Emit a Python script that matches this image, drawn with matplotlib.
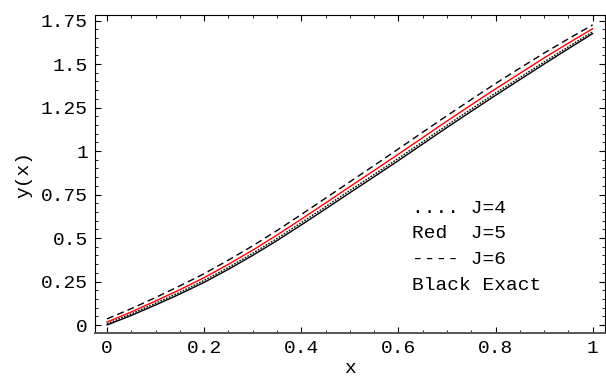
import matplotlib
matplotlib.use("Agg")
import matplotlib.pyplot as plt
from matplotlib.ticker import MultipleLocator, FixedLocator

x = [0.0, 0.05, 0.1, 0.15, 0.2, 0.25, 0.3, 0.35, 0.4, 0.45, 0.5,
     0.55, 0.6, 0.65, 0.7, 0.75, 0.8, 0.85, 0.9, 0.95, 1.0]
exact = [0.0, 0.055, 0.115, 0.178, 0.245, 0.32, 0.40, 0.485, 0.575, 0.667, 0.76,
         0.852, 0.945, 1.04, 1.135, 1.228, 1.32, 1.41, 1.50, 1.588, 1.675]
j4 = [0.007, 0.064, 0.125, 0.188, 0.256, 0.331, 0.412, 0.497, 0.588, 0.680, 0.773,
      0.865, 0.958, 1.053, 1.148, 1.241, 1.333, 1.422, 1.512, 1.599, 1.685]
j5 = [0.017, 0.075, 0.138, 0.203, 0.272, 0.349, 0.430, 0.517, 0.608, 0.701, 0.795,
      0.888, 0.982, 1.077, 1.172, 1.265, 1.357, 1.446, 1.535, 1.620, 1.703]
j6 = [0.035, 0.094, 0.158, 0.225, 0.295, 0.373, 0.455, 0.543, 0.635, 0.729, 0.823,
      0.917, 1.012, 1.108, 1.203, 1.296, 1.388, 1.476, 1.563, 1.645, 1.725]

xticks = [0, 0.2, 0.4, 0.6, 0.8, 1.0]
xticklabels = ["0", "0.2", "0.4", "0.6", "0.8", "1"]
yticks = [0, 0.25, 0.5, 0.75, 1.0, 1.25, 1.5, 1.75]
yticklabels = ["0", "0.25", "0.5", "0.75", "1", "1.25", "1.5", "1.75"]
legend_lines = [".... J=4", "Red  J=5", "---- J=6", "Black Exact"]

plt.rcParams['font.family'] = ['Liberation Mono', 'DejaVu Sans Mono']
fig = plt.figure(figsize=(6.06, 3.77), dpi=100)
ax = fig.add_axes([0.1568, 0.1167, 0.998 - 0.1568, 0.9589 - 0.1167])

ax.plot(x, exact, color='black', lw=1.0)
ax.plot(x, j4, color='black', lw=1.0, linestyle=(0, (1.2, 1.0)))
ax.plot(x, j5, color='red', lw=1.0)
ax.plot(x, j6, color='black', lw=1.0, linestyle=(0, (5, 3)))

ax.set_xlim(-0.0247, 1.025)
ax.set_ylim(-0.046, 1.779)

ax.xaxis.set_major_locator(FixedLocator(xticks))
ax.set_xticklabels(xticklabels)
ax.yaxis.set_major_locator(FixedLocator(yticks))
ax.set_yticklabels(yticklabels)
ax.xaxis.set_minor_locator(MultipleLocator(0.05))
ax.yaxis.set_minor_locator(MultipleLocator(0.05))

ax.tick_params(which='both', direction='in', top=True, right=True,
               labeltop=False, labelright=False, labelsize=14, colors='black')
ax.tick_params(which='major', length=4.5, width=0.8, pad=5)
ax.tick_params(which='minor', length=2.5, width=0.6)
for s in ax.spines.values():
    s.set_linewidth(0.8)
ax.spines['bottom'].set_color('#555555')
ax.spines['bottom'].set_linewidth(1.4)

ax.set_xlabel("x", fontsize=14, labelpad=2)
ax.set_ylabel("y(x)", fontsize=14, labelpad=6)

ys = [0.672, 0.525, 0.377, 0.229]
for t, yy in zip(legend_lines, ys):
    ax.text(0.628, yy, t, fontsize=14, ha='left', va='center')

fig.savefig("out.png", dpi=100)
